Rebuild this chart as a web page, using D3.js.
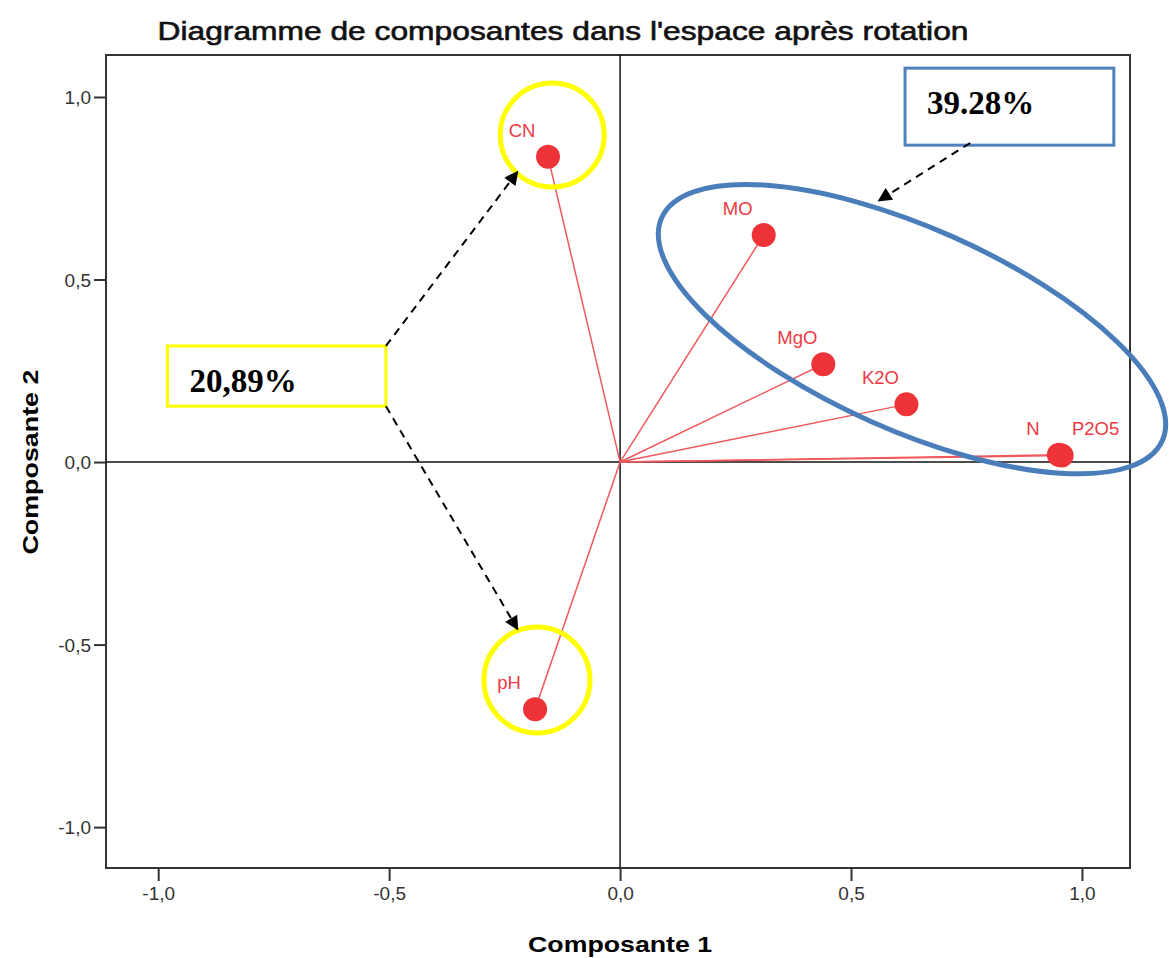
<!DOCTYPE html>
<meta charset="utf-8">
<title>Diagramme de composantes</title>
<style>
body { margin: 0; background: #fff; }
text { font-family: "Liberation Sans", Arial, sans-serif; }
.tick text { font-size: 19px; fill: #333; }
.tick line { stroke: #333; stroke-width: 2; }
.domain { display: none; }
</style>
<body>
<div id="chart"></div>
<script src="https://cdn.jsdelivr.net/npm/d3@7"></script>
<script>
  // loadings after rotation (component 1, component 2)
  var variables = ["CN", "MO", "MgO", "K2O", "N", "P2O5", "pH"];
  var comp1 = [-0.156, 0.311, 0.440, 0.620, 0.950, 0.956, -0.184];
  var comp2 = [0.836, 0.622, 0.268, 0.158, 0.020, 0.018, -0.677];
  var labelSide = ["left", "left", "left", "left", "left", "right", "left"];
  var ticks = [-1, -0.5, 0, 0.5, 1];

  var margin = {top: 55, right: 39, bottom: 90, left: 106},
      width = 1169 - margin.left - margin.right,
      height = 958 - margin.top - margin.bottom;

  var svg = d3.select("#chart").append("svg")
      .attr("width", 1169)
      .attr("height", 958);

  var g = svg.append("g")
      .attr("transform", "translate(" + margin.left + "," + margin.top + ")");

  var x = d3.scaleLinear().domain([-1.113, 1.104]).range([0, width]);
  var y = d3.scaleLinear().domain([-1.112, 1.115]).range([height, 0]);

  var fmt = function(d) { return d3.format(".1f")(d).replace(".", ",").replace("−", "-"); };

  // axes
  g.append("g")
      .attr("transform", "translate(0," + height + ")")
      .call(d3.axisBottom(x).tickValues(ticks).tickSize(13).tickPadding(6).tickFormat(fmt));
  g.append("g")
      .call(d3.axisLeft(y).tickValues(ticks).tickSize(12).tickPadding(3).tickFormat(fmt))
      .selectAll(".tick text").attr("dy", "0.35em");

  // frame
  g.append("rect")
      .attr("width", width).attr("height", height)
      .attr("fill", "none").attr("stroke", "#333").attr("stroke-width", 2);

  // zero lines
  g.append("line")
      .attr("x1", x(0)).attr("x2", x(0)).attr("y1", 0).attr("y2", height)
      .attr("stroke", "#111").attr("stroke-width", 1.5);
  g.append("line")
      .attr("x1", 0).attr("x2", width).attr("y1", y(0)).attr("y2", y(0))
      .attr("stroke", "#111").attr("stroke-width", 1.5);

  var data = variables.map(function(v, i) {
    return {name: v, c1: comp1[i], c2: comp2[i], side: labelSide[i]};
  });

  // vectors from origin
  g.selectAll(".vec").data(data).enter().append("line")
      .attr("class", "vec")
      .attr("x1", x(0)).attr("y1", y(0))
      .attr("x2", function(d) { return x(d.c1); })
      .attr("y2", function(d) { return y(d.c2); })
      .attr("stroke", "#f0585c").attr("stroke-width", 1.5);

  g.selectAll(".pt").data(data).enter().append("circle")
      .attr("class", "pt")
      .attr("cx", function(d) { return x(d.c1); })
      .attr("cy", function(d) { return y(d.c2); })
      .attr("r", 12)
      .attr("fill", "#ee3338");

  g.selectAll(".lab").data(data).enter().append("text")
      .attr("class", "lab")
      .attr("x", function(d) { return x(d.c1) + (d.side == "left" ? -26 : 34); })
      .attr("y", function(d) { return y(d.c2) - 20; })
      .attr("text-anchor", "middle")
      .attr("font-size", 18.5)
      .attr("fill", "#ee3a44")
      .text(function(d) { return d.name; });

  // title and axis titles
  svg.append("text")
      .attr("x", 563).attr("y", 40)
      .attr("text-anchor", "middle")
      .attr("font-size", 26)
      .attr("textLength", 811).attr("lengthAdjust", "spacingAndGlyphs")
      .attr("fill", "#111").attr("stroke", "#111").attr("stroke-width", 0.6)
      .text("Diagramme de composantes dans l'espace après rotation");

  svg.append("text")
      .attr("x", margin.left + x(0)).attr("y", 952)
      .attr("text-anchor", "middle")
      .attr("font-size", 22).attr("font-weight", "bold")
      .attr("textLength", 184).attr("lengthAdjust", "spacingAndGlyphs")
      .text("Composante 1");

  svg.append("text")
      .attr("transform", "translate(38," + (margin.top + y(0)) + ") rotate(-90)")
      .attr("text-anchor", "middle")
      .attr("font-size", 22).attr("font-weight", "bold")
      .attr("textLength", 185).attr("lengthAdjust", "spacingAndGlyphs")
      .text("Composante 2");

  // annotations (in data units)
  var defs = svg.append("defs");
  defs.append("marker")
      .attr("id", "arrow")
      .attr("viewBox", "0 0 10 10")
      .attr("refX", 9).attr("refY", 5)
      .attr("markerWidth", 16).attr("markerHeight", 14)
      .attr("markerUnits", "userSpaceOnUse")
      .attr("orient", "auto")
    .append("path")
      .attr("d", "M0,0L10,5L0,10Z")
      .attr("fill", "#000");

  var ann = svg.append("g")
      .attr("transform", "translate(" + margin.left + "," + margin.top + ")");

  // yellow circles around CN and pH
  var yellowCircles = [{c1: -0.147, c2: 0.896, r: 52}, {c1: -0.180, c2: -0.597, r: 53}];
  ann.selectAll(".yc").data(yellowCircles).enter().append("circle")
      .attr("cx", function(d) { return x(d.c1); })
      .attr("cy", function(d) { return y(d.c2); })
      .attr("r", function(d) { return d.r; })
      .attr("fill", "none").attr("stroke", "#ffff00").attr("stroke-width", 5);

  // blue ellipse around group 1
  ann.append("ellipse")
      .attr("transform", "translate(" + x(0.632) + "," + y(0.364) + ") rotate(24)")
      .attr("rx", 274).attr("ry", 101)
      .attr("fill", "none").attr("stroke", "#4a7ebb").attr("stroke-width", 5);

  // boxes
  var boxes = [
    {x0: -0.980, x1: -0.507, y0: 0.318, y1: 0.153, stroke: "#ffff00", label: "20,89%"},
    {x0: 0.617, x1: 1.069, y0: 1.079, y1: 0.868, stroke: "#4f81bd", label: "39.28%"}
  ];
  ann.selectAll(".box").data(boxes).enter().append("rect")
      .attr("x", function(d) { return x(d.x0); })
      .attr("y", function(d) { return y(d.y0); })
      .attr("width", function(d) { return x(d.x1) - x(d.x0); })
      .attr("height", function(d) { return y(d.y1) - y(d.y0); })
      .attr("fill", "#fff").attr("stroke", function(d) { return d.stroke; })
      .attr("stroke-width", 3);
  ann.selectAll(".boxt").data(boxes).enter().append("text")
      .attr("x", function(d) { return x(d.x0) + 22; })
      .attr("y", function(d) { return y(d.y0) + 46; })
      .style("font-family", "'Liberation Serif', 'Times New Roman', serif")
      .attr("font-size", 33).attr("font-weight", "bold")
      .text(function(d) { return d.label; });

  // dashed arrows
  var arrows = [
    {a: [-0.507, 0.318], b: [-0.222, 0.795]},
    {a: [-0.507, 0.153], b: [-0.222, -0.458]},
    {a: [0.758, 0.874], b: [0.560, 0.716]}
  ];
  ann.selectAll(".arr").data(arrows).enter().append("line")
      .attr("x1", function(d) { return x(d.a[0]); })
      .attr("y1", function(d) { return y(d.a[1]); })
      .attr("x2", function(d) { return x(d.b[0]); })
      .attr("y2", function(d) { return y(d.b[1]); })
      .attr("stroke", "#000").attr("stroke-width", 2)
      .attr("stroke-dasharray", "8,6")
      .attr("marker-end", "url(#arrow)");
</script>
</body>
